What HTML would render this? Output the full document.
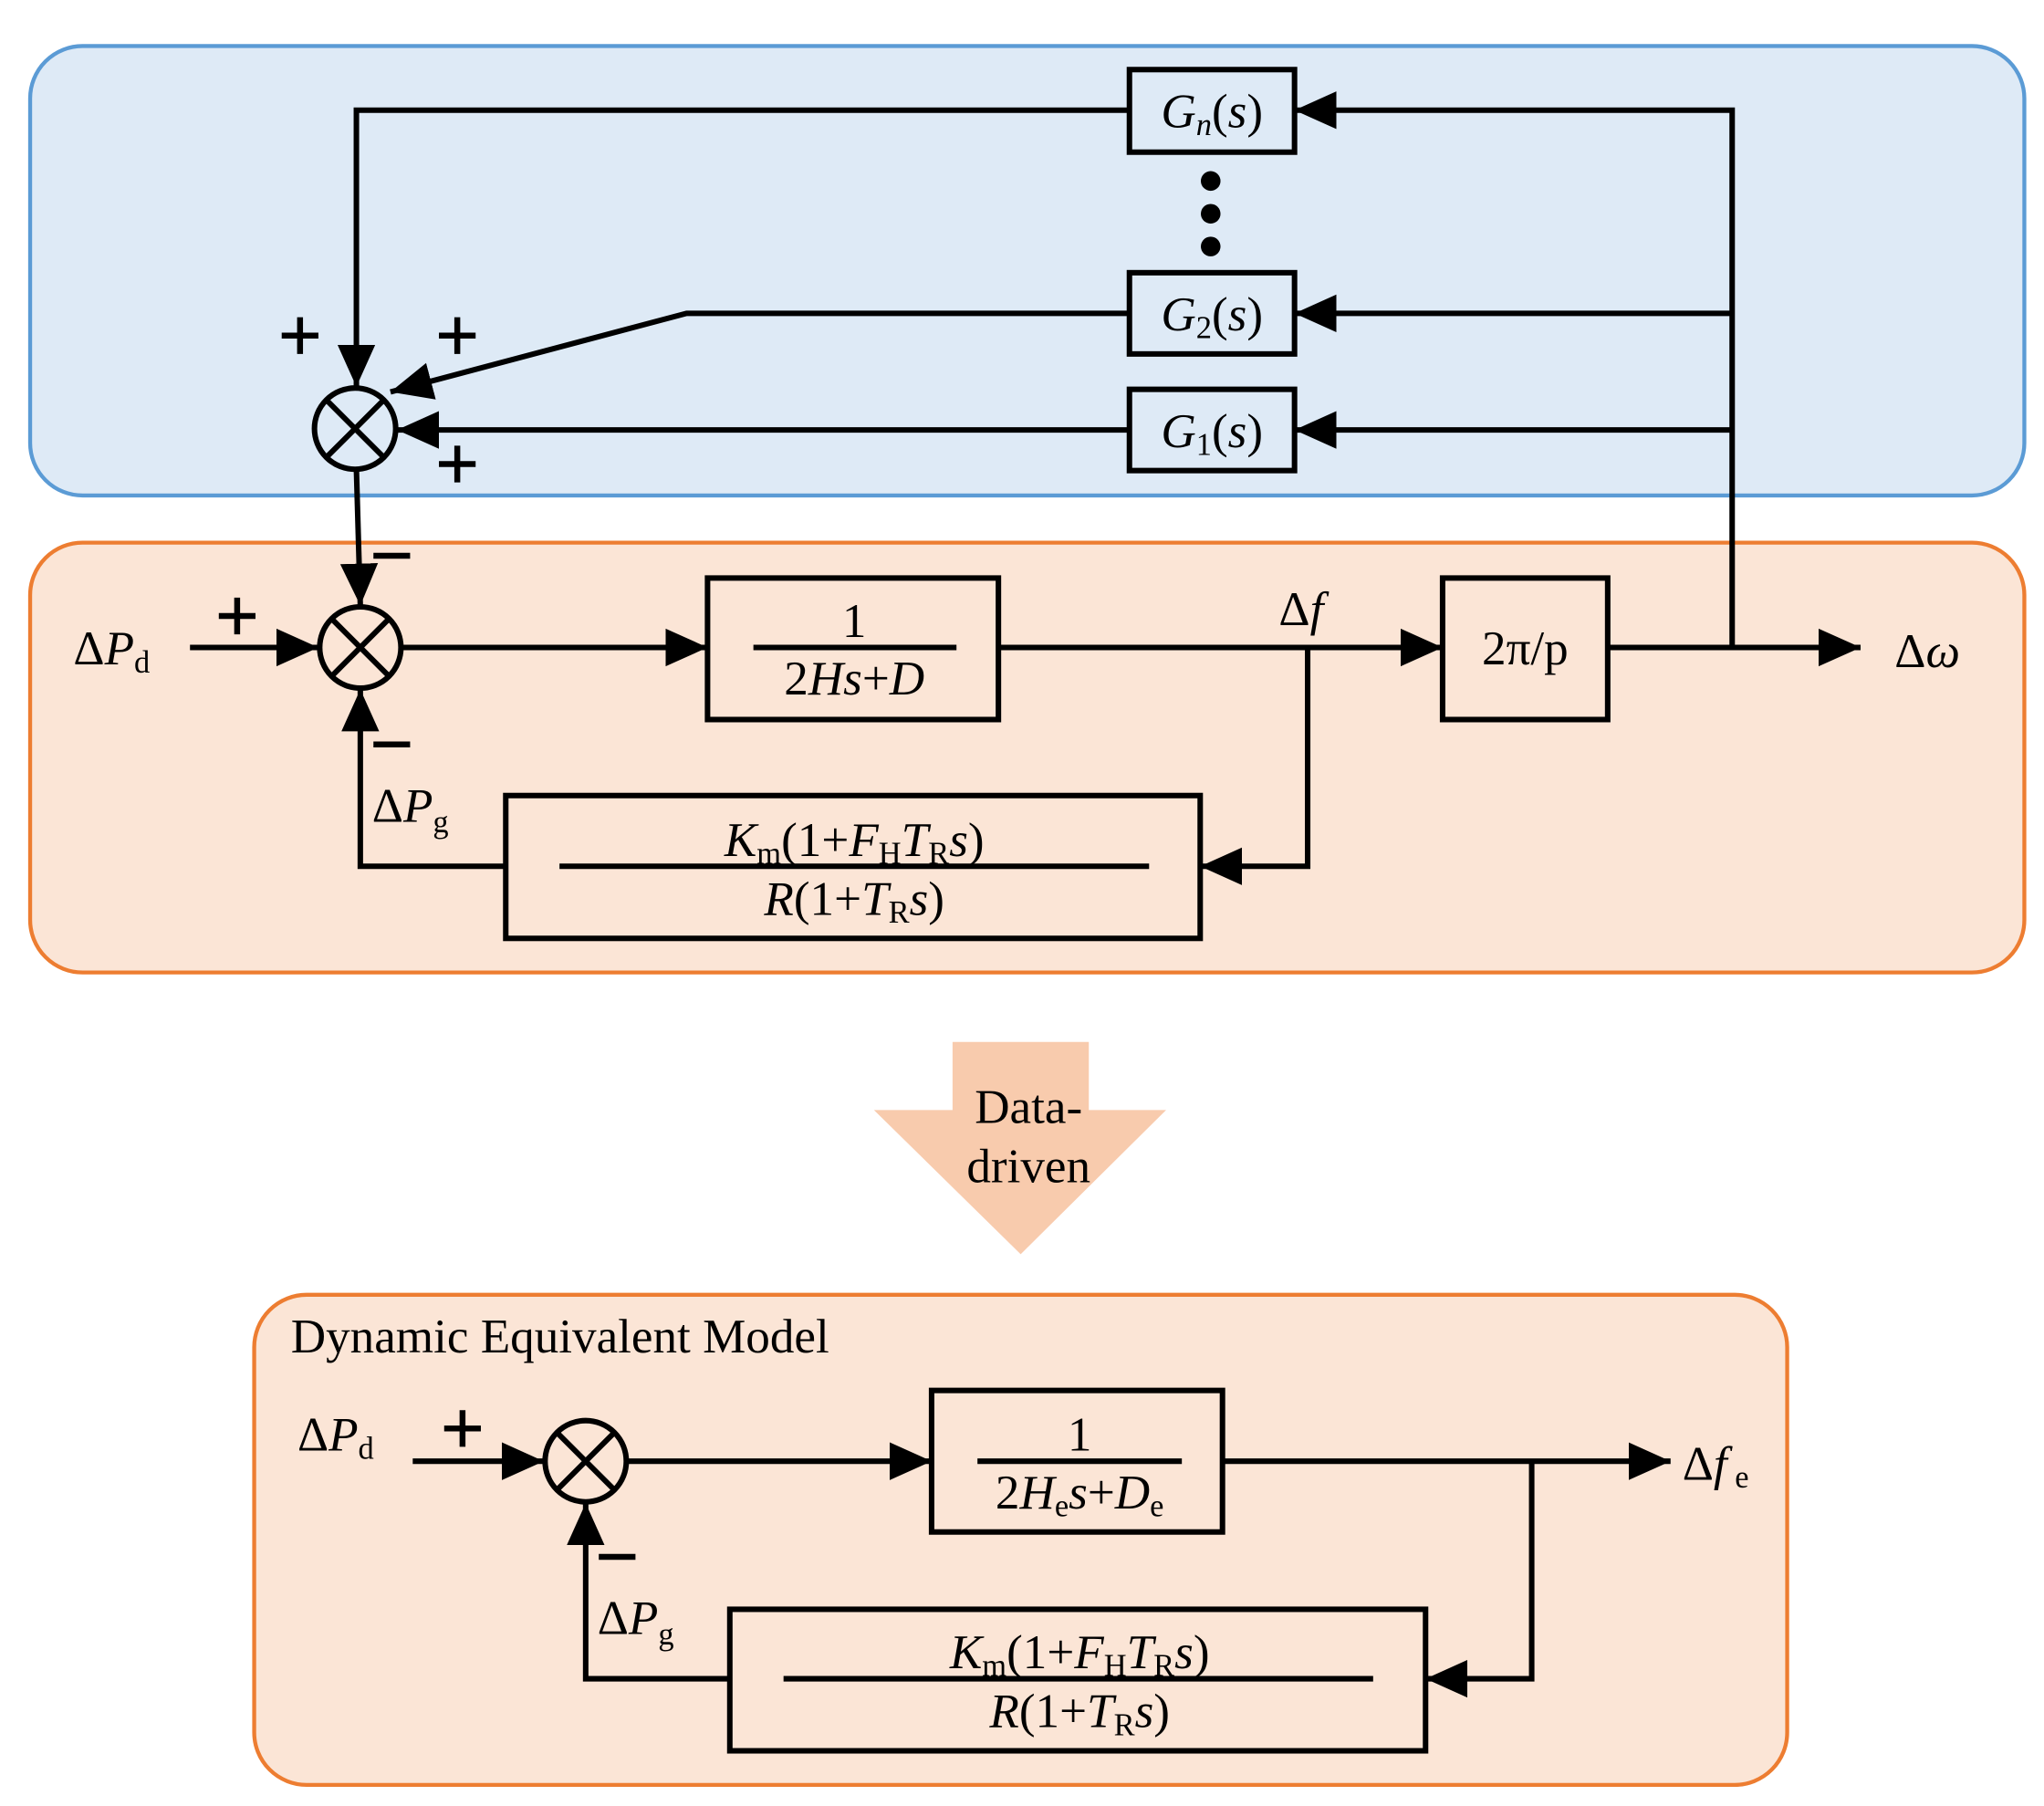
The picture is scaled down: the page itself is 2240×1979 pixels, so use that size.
<!DOCTYPE html>
<html><head><meta charset="utf-8"><style>
html,body{margin:0;padding:0;background:#fff}
svg{display:block}
text{font-family:"Liberation Serif",serif;fill:#000}
</style></head><body>
<svg width="2240" height="1979" viewBox="0 0 1560 1378" xmlns="http://www.w3.org/2000/svg">
<defs>
<marker id="b" viewBox="0 0 10 10" refX="10" refY="5" markerWidth="32" markerHeight="32" markerUnits="userSpaceOnUse" orient="auto"><path d="M0,0.5 L10,5 L0,9.5 z"/></marker>
</defs>
<rect x="23" y="35" width="1522" height="343" rx="40" fill="#deeaf6" stroke="#5b9bd5" stroke-width="3"/>
<rect x="23" y="414" width="1522" height="328" rx="40" fill="#fbe5d6" stroke="#ed7d31" stroke-width="3"/>
<rect x="194" y="988" width="1170" height="374" rx="40" fill="#fbe5d6" stroke="#ed7d31" stroke-width="3"/>
<g stroke="#000" stroke-width="4.2" fill="none">
<rect x="862" y="53" width="126" height="63"/>
<rect x="862" y="208" width="126" height="62"/>
<rect x="862" y="297" width="126" height="62"/>
<polyline points="1322,494 1322,84 988,84" marker-end="url(#b)"/>
<line x1="1322" y1="239" x2="988" y2="239" marker-end="url(#b)"/>
<line x1="1322" y1="328" x2="988" y2="328" marker-end="url(#b)"/>
<polyline points="862,84 272,84 272,295" marker-end="url(#b)"/>
<polyline points="862,239 524,239 298,299" marker-end="url(#b)"/>
<line x1="862" y1="328" x2="303" y2="328" marker-end="url(#b)"/>
<circle cx="271" cy="327" r="31"/>
<line x1="249" y1="305" x2="293" y2="349"/><line x1="293" y1="305" x2="249" y2="349"/>
<line x1="272" y1="358" x2="275" y2="462" marker-end="url(#b)"/>
<circle cx="275" cy="494" r="31"/>
<line x1="253" y1="472" x2="297" y2="516"/><line x1="297" y1="472" x2="253" y2="516"/>
<line x1="145" y1="494" x2="243" y2="494" marker-end="url(#b)"/>
<line x1="306" y1="494" x2="540" y2="494" marker-end="url(#b)"/>
<rect x="540" y="441" width="222" height="108"/>
<line x1="575" y1="494" x2="730" y2="494"/>
<line x1="762" y1="494" x2="1101" y2="494" marker-end="url(#b)"/>
<rect x="1101" y="441" width="126" height="108"/>
<line x1="1227" y1="494" x2="1420" y2="494" marker-end="url(#b)"/>
<polyline points="998,494 998,661 916,661" marker-end="url(#b)"/>
<rect x="386" y="607" width="530" height="109"/>
<line x1="427" y1="661" x2="877" y2="661"/>
<polyline points="386,661 275,661 275,526" marker-end="url(#b)"/>
<circle cx="447" cy="1115" r="31"/>
<line x1="425" y1="1093" x2="469" y2="1137"/><line x1="469" y1="1093" x2="425" y2="1137"/>
<line x1="315" y1="1115" x2="415" y2="1115" marker-end="url(#b)"/>
<line x1="478" y1="1115" x2="711" y2="1115" marker-end="url(#b)"/>
<rect x="711" y="1061" width="222" height="108"/>
<line x1="746" y1="1115" x2="902" y2="1115"/>
<line x1="933" y1="1115" x2="1275" y2="1115" marker-end="url(#b)"/>
<polyline points="1169,1115 1169,1281 1088,1281" marker-end="url(#b)"/>
<rect x="557" y="1228" width="531" height="108"/>
<line x1="598" y1="1281" x2="1048" y2="1281"/>
<polyline points="557,1281 447,1281 447,1147" marker-end="url(#b)"/>
</g>
<g stroke="#000" stroke-width="4.5">
<path d="M215,256h28M229,242v28"/><path d="M335,256h28M349,242v28"/><path d="M335,354h28M349,340v28"/>
<path d="M167,470h28M181,456v28"/><path d="M339,1090h28M353,1076v28"/>
<path d="M285,424h28"/><path d="M285,568h28"/><path d="M457,1188h28"/>
</g>
<circle cx="924" cy="138" r="7.5"/><circle cx="924" cy="163" r="7.5"/><circle cx="924" cy="188" r="7.5"/>
<path d="M727,795 H831 V847 H890 L779,957 L667,847 H727 Z" fill="#f8cbad"/>
<g font-size="37">
<text x="925" y="97" text-anchor="middle"><tspan font-style="italic">G</tspan><tspan font-size="24" dy="6" font-style="italic">n</tspan><tspan dy="-6">(</tspan><tspan font-style="italic">s</tspan>)</text>
<text x="925" y="252" text-anchor="middle"><tspan font-style="italic">G</tspan><tspan font-size="24" dy="6">2</tspan><tspan dy="-6">(</tspan><tspan font-style="italic">s</tspan>)</text>
<text x="925" y="341" text-anchor="middle"><tspan font-style="italic">G</tspan><tspan font-size="24" dy="6">1</tspan><tspan dy="-6">(</tspan><tspan font-style="italic">s</tspan>)</text>
<text x="56" y="507">Δ<tspan font-style="italic">P</tspan><tspan font-size="24" dy="6">d</tspan></text>
<text x="652" y="486" text-anchor="middle">1</text>
<text x="652" y="530" text-anchor="middle">2<tspan font-style="italic">Hs</tspan>+<tspan font-style="italic">D</tspan></text>
<text x="976" y="477">Δ<tspan font-style="italic">f</tspan></text>
<text x="1164" y="507" text-anchor="middle">2π/p</text>
<text x="1446" y="509">Δ<tspan font-style="italic">ω</tspan></text>
<text x="284" y="627">Δ<tspan font-style="italic">P</tspan><tspan font-size="24" dy="8">g</tspan></text>
<text x="652" y="653" text-anchor="middle"><tspan font-style="italic">K</tspan><tspan font-size="24" dy="6">m</tspan><tspan dy="-6">(1+</tspan><tspan font-style="italic">F</tspan><tspan font-size="24" dy="6">H</tspan><tspan dy="-6" font-style="italic">T</tspan><tspan font-size="24" dy="6">R</tspan><tspan dy="-6" font-style="italic">s</tspan>)</text>
<text x="652" y="698" text-anchor="middle"><tspan font-style="italic">R</tspan>(1+<tspan font-style="italic">T</tspan><tspan font-size="24" dy="6">R</tspan><tspan dy="-6" font-style="italic">s</tspan>)</text>
<text x="785" y="857" text-anchor="middle">Data-</text>
<text x="785" y="902" text-anchor="middle">driven</text>
<text x="222" y="1032">Dynamic Equivalent Model</text>
<text x="227" y="1107">Δ<tspan font-style="italic">P</tspan><tspan font-size="24" dy="6">d</tspan></text>
<text x="824" y="1107" text-anchor="middle">1</text>
<text x="824" y="1151" text-anchor="middle">2<tspan font-style="italic">H</tspan><tspan font-size="24" dy="6">e</tspan><tspan dy="-6" font-style="italic">s</tspan>+<tspan font-style="italic">D</tspan><tspan font-size="24" dy="6">e</tspan></text>
<text x="1284" y="1129">Δ<tspan font-style="italic">f</tspan><tspan font-size="24" dx="6" dy="6">e</tspan></text>
<text x="456" y="1247">Δ<tspan font-style="italic">P</tspan><tspan font-size="24" dy="8">g</tspan></text>
<text x="824" y="1273" text-anchor="middle"><tspan font-style="italic">K</tspan><tspan font-size="24" dy="6">m</tspan><tspan dy="-6">(1+</tspan><tspan font-style="italic">F</tspan><tspan font-size="24" dy="6">H</tspan><tspan dy="-6" font-style="italic">T</tspan><tspan font-size="24" dy="6">R</tspan><tspan dy="-6" font-style="italic">s</tspan>)</text>
<text x="824" y="1318" text-anchor="middle"><tspan font-style="italic">R</tspan>(1+<tspan font-style="italic">T</tspan><tspan font-size="24" dy="6">R</tspan><tspan dy="-6" font-style="italic">s</tspan>)</text>
</g>
</svg>
</body></html>
